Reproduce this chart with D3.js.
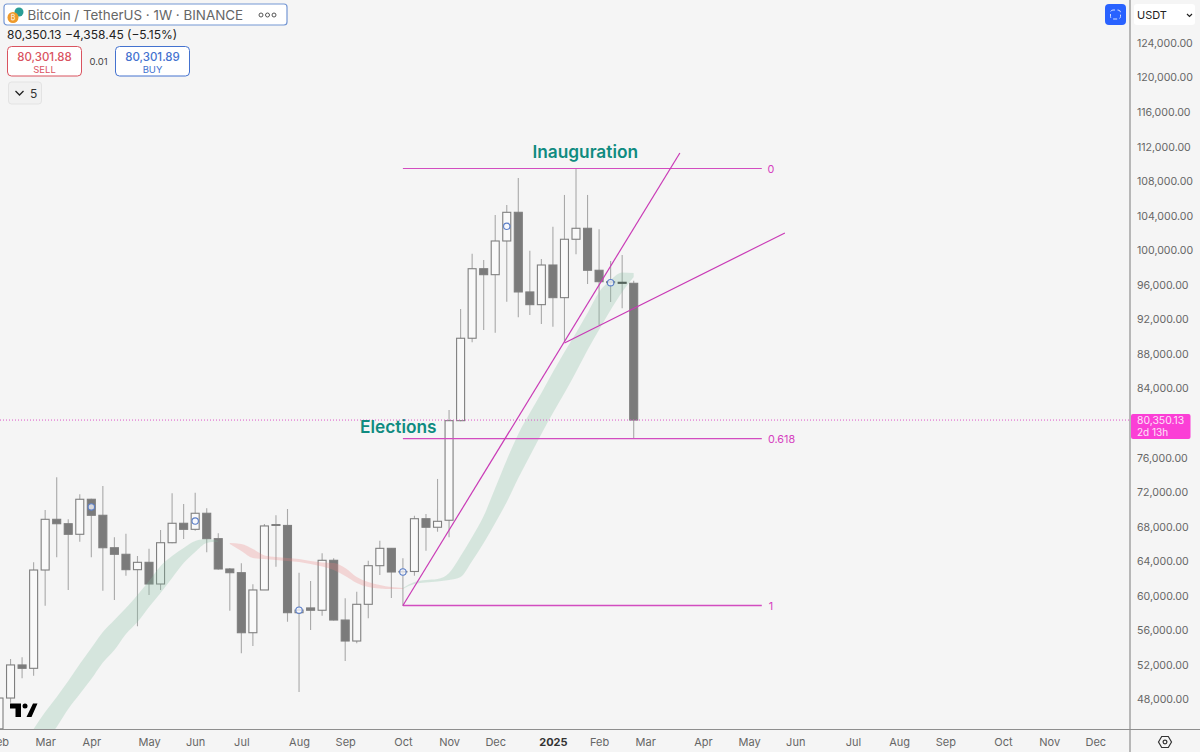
<!DOCTYPE html>
<html>
<head>
<meta charset="utf-8">
<title>Bitcoin / TetherUS weekly</title>
<script src="https://cdn.jsdelivr.net/npm/d3@7/dist/d3.min.js"></script>
<style>
html,body{margin:0;padding:0;background:#f5f5f5;overflow:hidden}
svg{display:block}
text{font-family:Inter,"Noto Sans",sans-serif}
</style>
</head>
<body>
<svg id="chart" width="1200" height="752"></svg>
<script>
// Weekly candles, oldest first
const opens  = [44600,48170,52000,51610,62990,68860,68350,67125,71180,69325,65570,64810,63030,63880,61370,66150,68400,67700,69560,66620,63110,62680,55730,60680,68250,68150,58050,58600,58330,64115,57200,54770,59020,63490,65500,62760,62820,68930,67940,68750,80280,89820,97870,97180,101080,104400,95180,93710,98300,94520,101280,102550,97690,96370,96300,96180];
const highs  = [48520,52690,52890,63880,69940,73720,68860,71760,71250,72720,66780,67190,64610,65460,67620,71870,70630,71940,70140,67240,63220,63770,61340,68320,69325,70050,62680,61720,64930,64350,59720,60480,64070,66380,65550,64350,69280,69480,73530,81520,93210,99610,98880,104090,105250,108370,99960,99000,102740,106410,109420,106410,102440,98770,99460,96480];
const lows   = [44000,47630,50450,50755,58860,64460,60680,66270,64460,60600,59520,62330,56470,60100,60680,66080,66580,67540,65040,63030,58280,53350,54190,60680,63370,57010,48870,56050,57700,57150,52460,54510,57400,62410,59750,58820,62330,65230,67430,66780,80200,89350,90780,90460,94050,92250,92510,91470,91160,89420,99540,96100,91360,94020,93290,78240];
const closes = [48170,52000,51610,62990,68860,68350,67125,71180,69325,65570,64810,63030,63880,61370,66150,68400,67700,69560,66620,63110,62680,55730,60680,68090,68150,58050,58350,58330,64115,57200,54770,59020,63490,65500,62760,62820,68930,67940,68630,80280,89820,97870,97180,101080,104400,95180,93710,98300,94520,101280,102550,97690,96370,96250,96180,80350];

// Moving-average ribbon edges, starting at week index ribbonStart
const ribbonStart = 3;
const ribbonUpper = [44585,46550,48290,50140,52110,53960,55810,57200,58590,60100,61720,63460,64610,65540,66350,66580,66350,66120,66000,65420,64670,64500,64380,64270,64030,63860,63800,63220,62180,61600,61260,61020,60910,61600,61830,61950,62650,64610,66810,69240,72480,75730,78740,81170,83480,85910,88230,90430,92740,95170,96560,97430,97380];
const ribbonLower = [41230,43080,44820,46900,48640,50370,52280,53730,55580,56970,58710,60330,62070,63800,65080,66120,66290,66000,65190,64380,64270,64150,64030,63920,63690,63400,62990,62300,61490,61020,60850,60790,60790,61370,61540,61660,61830,62180,64030,66120,68430,70860,73640,76190,78740,81170,83480,85910,88460,90800,93100,95170,96910];
const bearishFromTo = [19, 35];

// Blue event markers every nine weeks
const markerWeeks  = [8,17,26,35,44,53];
const markerPrices = [70290,68660,58330,62760,102780,96250];

// Fibonacci levels drawn from the October low
const fibLabels = ["0","0.618","1"];
const fibPrices = [109470,78190,58880];
const fibFromWeek = 35, fibToWeek = 66.1, fibLabelWeek = 66.9;

// Trend lines as [week, price] pairs
const trendA = [[35,58880],[59,111270]];
const trendB = [[49,89270],[68.1,102010]];

const notes = [
  {text:"Inauguration", week:50.8, price:110720},
  {text:"Elections",    week:34.6, price:78870}
];

// The 80,000 level sits under the last price tag, so it carries no label
const priceTicks = [48000,52000,56000,60000,64000,68000,72000,76000,84000,88000,92000,96000,100000,104000,108000,112000,116000,120000,124000];
const monthTicks = [
  ["2024-02-05","Feb"],["2024-03-04","Mar"],["2024-04-01","Apr"],["2024-05-06","May"],["2024-06-03","Jun"],
  ["2024-07-01","Jul"],["2024-08-05","Aug"],["2024-09-02","Sep"],["2024-10-07","Oct"],["2024-11-04","Nov"],
  ["2024-12-02","Dec"],["2025-01-06","2025"],["2025-02-03","Feb"],["2025-03-03","Mar"],["2025-04-07","Apr"],
  ["2025-05-05","May"],["2025-06-02","Jun"],["2025-07-07","Jul"],["2025-08-04","Aug"],["2025-09-01","Sep"],
  ["2025-10-06","Oct"],["2025-11-03","Nov"],["2025-12-01","Dec"]
];
const lastPrice = 80350.13;

const plotRight = 1130, plotBottom = 729.5;
const firstWeek = new Date(Date.UTC(2024,1,5));
const weekDate = i => new Date(firstWeek.getTime() + i*7*864e5);

const x = d3.scaleUtc().domain([weekDate(0), weekDate(100)]).range([-1, 1153]);
const y = d3.scaleLinear().domain([48000,124000]).range([699.5,43]);
const wx = i => x(weekDate(i));

const svg = d3.select("#chart");
svg.append("rect").attr("width",1200).attr("height",752).attr("fill","#f5f5f5");
svg.append("defs").append("clipPath").attr("id","plot")
  .append("rect").attr("width",plotRight).attr("height",plotBottom);

const plot = svg.append("g").attr("clip-path","url(#plot)");

// Candles: wicks first, then bodies
const weeks = d3.range(opens.length);
plot.append("g").selectAll("line").data(weeks).join("line")
  .attr("x1",wx).attr("x2",wx)
  .attr("y1",i=>y(highs[i])).attr("y2",i=>y(lows[i]))
  .attr("stroke","#a9a9a9").attr("stroke-width",1.1);
plot.append("g").selectAll("rect").data(weeks).join("rect")
  .attr("x",i=>wx(i)-4).attr("width",8)
  .attr("y",i=>y(Math.max(opens[i],closes[i])))
  .attr("height",i=>Math.abs(y(opens[i])-y(closes[i])))
  .attr("fill",i=>closes[i]>=opens[i]?"#f9f9f9":"#7b7b7b")
  .attr("stroke",i=>i===54?"#444":"#7f7f7f").attr("stroke-width",1.1);

// Ribbon, tinted by trend direction
const ribbon = d3.area()
  .x(d=>wx(d.week)).y0(d=>y(d.lower)).y1(d=>y(d.upper))
  .curve(d3.curveMonotoneX);
const ribbonRows = ribbonUpper.map((u,k)=>({week:k+ribbonStart,upper:u,lower:ribbonLower[k]}));
const [redFrom,redTo] = bearishFromTo;
plot.append("path").attr("d",ribbon(ribbonRows.filter(d=>d.week<=redFrom)))
  .attr("fill","rgba(130,190,160,.27)");
plot.append("path").attr("d",ribbon(ribbonRows.filter(d=>d.week>=redTo)))
  .attr("fill","rgba(130,190,160,.27)");
plot.append("path").attr("d",ribbon(ribbonRows.filter(d=>d.week>redFrom&&d.week<=redTo)))
  .attr("fill","rgba(235,130,130,.27)");

// Event markers
plot.append("g").selectAll("circle").data(markerWeeks).join("circle")
  .attr("cx",wx).attr("cy",(d,k)=>y(markerPrices[k])).attr("r",3.2)
  .attr("fill","rgba(245,247,252,.75)").attr("stroke","#5c7fc8").attr("stroke-width",1.1);

// Last price line
plot.append("line").attr("x1",0).attr("x2",plotRight)
  .attr("y1",y(lastPrice)).attr("y2",y(lastPrice))
  .attr("stroke","#dd55c8").attr("stroke-width",1).attr("stroke-dasharray","1 2");

// Fibonacci levels
const fib = svg.append("g");
fib.selectAll("line").data(fibPrices).join("line")
  .attr("x1",wx(fibFromWeek)).attr("x2",wx(fibToWeek))
  .attr("y1",d=>y(d)).attr("y2",d=>y(d))
  .attr("stroke","#d24cc0").attr("stroke-width",(d,k)=>k===2?1.6:1.2);
fib.selectAll("text").data(fibPrices).join("text")
  .attr("x",(d,k)=>k===1?768:wx(fibLabelWeek)).attr("y",d=>y(d)+4)
  .attr("text-anchor",(d,k)=>k===1?"start":"middle")
  .attr("font-size",10.8).attr("fill","#d53fc0")
  .text((d,k)=>fibLabels[k]);

// Trend lines
const trendLine = d3.line().x(d=>wx(d[0])).y(d=>y(d[1]));
[trendA,trendB].forEach(t=>{
  svg.append("path").attr("d",trendLine(t)).attr("fill","none")
    .attr("stroke","#c93ab6").attr("stroke-width",1.2);
});

// Event notes
svg.append("g").selectAll("text").data(notes).join("text")
  .attr("x",d=>wx(d.week)).attr("y",d=>y(d.price))
  .attr("text-anchor","middle")
  .attr("font-size",17.3).attr("font-weight",600).attr("fill","#0f8b80")
  .text(d=>d.text);

// Axes
const yAxis = d3.axisRight(y).tickValues(priceTicks).tickSize(0).tickPadding(7)
  .tickFormat(d3.format(",.2f"));
const yG = svg.append("g").attr("transform",`translate(${plotRight},0)`).call(yAxis);
yG.select(".domain").remove();
yG.selectAll("text").attr("font-size",10.6).attr("fill","#666").style("font-family","Inter");

const monthLookup = new Map(monthTicks.map(d=>[d[0],d[1]]));
const xAxis = d3.axisBottom(x)
  .tickValues(monthTicks.map(d=>new Date(d[0]+"T00:00:00Z")))
  .tickSize(0).tickPadding(8.5)
  .tickFormat(d=>monthLookup.get(d.toISOString().slice(0,10)));
const xG = svg.append("g").attr("transform",`translate(0,${plotBottom})`).call(xAxis);
xG.select(".domain").remove();
xG.selectAll("text").attr("font-size",11)
  .attr("fill",d=>d.getUTCFullYear()===2025&&d.getUTCMonth()===0?"#333":"#666")
  .attr("font-weight",d=>d.getUTCFullYear()===2025&&d.getUTCMonth()===0?700:400)
  .style("font-family","Inter");

// Pane borders
svg.append("line").attr("x1",0).attr("x2",1200).attr("y1",plotBottom).attr("y2",plotBottom)
  .attr("stroke","#8e8e8e").attr("stroke-width",1);
svg.append("line").attr("x1",plotRight).attr("x2",plotRight).attr("y1",0).attr("y2",752)
  .attr("stroke","#8e8e8e").attr("stroke-width",1.2);

// Last price tag
svg.append("rect").attr("x",1131).attr("y",414).attr("width",59.5).attr("height",25).attr("rx",2)
  .attr("fill","#fb3fd6");
svg.append("text").attr("x",1137).attr("y",423.5).attr("font-size",10.4).attr("fill","#fde3f8")
  .text(d3.format(",.2f")(lastPrice));
svg.append("text").attr("x",1137).attr("y",435.7).attr("font-size",10).attr("fill","#fde3f8").text("2d 13h");

// Symbol header
const hdr = svg.append("g");
hdr.append("rect").attr("x",4).attr("y",4).attr("width",283).attr("height",21).attr("rx",3)
  .attr("fill","#fff").attr("stroke","#7597d4").attr("stroke-width",1.2);
hdr.append("circle").attr("cx",19).attr("cy",12).attr("r",4.5).attr("fill","#2a9d96");
hdr.append("circle").attr("cx",13).attr("cy",17.5).attr("r",5.5).attr("fill","#ef9a2a");
hdr.append("text").attr("x",13).attr("y",20).attr("text-anchor","middle").attr("font-size",7).attr("fill","#fff").text("₿");
hdr.append("text").attr("x",27.5).attr("y",19.5).attr("font-size",13.4).attr("fill","#666")
  .text("Bitcoin / TetherUS · 1W · BINANCE");
[261,267.5,274].forEach(cx=>hdr.append("circle").attr("cx",cx).attr("cy",15).attr("r",2)
  .attr("fill","none").attr("stroke","#555").attr("stroke-width",1));
hdr.append("text").attr("x",7).attr("y",39).attr("font-size",12).attr("fill","#222")
  .text("80,350.13  −4,358.45 (−5.15%)");

function tradeBox(bx,w,color,price,label){
  hdr.append("rect").attr("x",bx).attr("y",46.5).attr("width",w).attr("height",29.5).attr("rx",4)
    .attr("fill","#fff").attr("stroke",color).attr("stroke-width",1);
  hdr.append("text").attr("x",bx+w/2).attr("y",60.5).attr("text-anchor","middle")
    .attr("font-size",11.5).attr("font-weight",500).attr("fill",color).text(price);
  hdr.append("text").attr("x",bx+w/2).attr("y",72.5).attr("text-anchor","middle")
    .attr("font-size",9.5).attr("fill",color).text(label);
}
tradeBox(7.5,74,"#d9535f","80,301.88","SELL");
tradeBox(115.5,74,"#4472cf","80,301.89","BUY");
hdr.append("text").attr("x",98.5).attr("y",64.5).attr("text-anchor","middle")
  .attr("font-size",9.5).attr("fill","#444").text("0.01");

hdr.append("rect").attr("x",8.5).attr("y",82).attr("width",33).attr("height",22).attr("rx",3)
  .attr("fill","#f1f1f1").attr("stroke","#e3e3e3");
hdr.append("path").attr("d","M15.5 91l4 4 4-4").attr("fill","none").attr("stroke","#222").attr("stroke-width",1.3);
hdr.append("text").attr("x",30).attr("y",97.5).attr("font-size",12).attr("fill","#333").text("5");

// Auto-scale button and currency selector
svg.append("rect").attr("x",1105).attr("y",4).attr("width",21).attr("height",21).attr("rx",4).attr("fill","#2962ff");
svg.append("rect").attr("x",1110.5).attr("y",10).attr("width",10).attr("height",9).attr("rx",2.5)
  .attr("fill","none").attr("stroke","#d6e0ff").attr("stroke-width",1).attr("stroke-dasharray","4 2.5").attr("stroke-dashoffset","2");
svg.append("rect").attr("x",1134).attr("y",4).attr("width",61).attr("height",21).attr("rx",3).attr("fill","#fff");
svg.append("text").attr("x",1137).attr("y",19).attr("font-size",11).attr("fill","#222").text("USDT");
svg.append("path").attr("d","M1187 14l2.5 2.5 2.5-2.5").attr("fill","none").attr("stroke","#222").attr("stroke-width",1.2);

// Watermark logo
svg.append("path").attr("fill","#000")
  .attr("d","M10 703.5h11v13.5h-5.5v-8.5h-5.5z M33 703.5h4.5l-6 13.5h-5z");
svg.append("circle").attr("cx",25).attr("cy",706).attr("r",2.5).attr("fill","#000");

// Settings gear
svg.append("path").attr("d","M1158.5 742l3.2-5.5h6.6l3.2 5.5-3.2 5.5h-6.6z")
  .attr("fill","none").attr("stroke","#333").attr("stroke-width",1.2);
svg.append("circle").attr("cx",1165).attr("cy",742).attr("r",1.9)
  .attr("fill","none").attr("stroke","#333").attr("stroke-width",1.2);
</script>
</body>
</html>
